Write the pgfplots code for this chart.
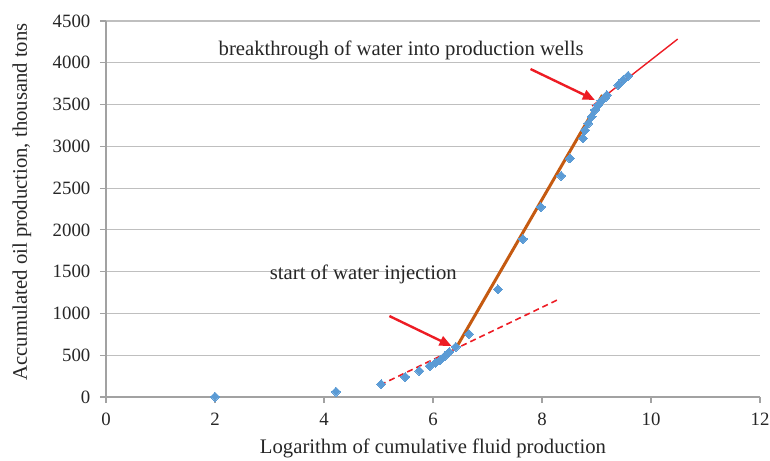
\documentclass[border=0pt]{standalone}
\usepackage{fontspec}
\setmainfont{Liberation Serif}
\usepackage{pgfplots}
\pgfplotsset{compat=1.18}
\usetikzlibrary{arrows.meta}
\definecolor{ptblue}{RGB}{91,155,213}
\definecolor{fitorange}{RGB}{197,90,17}
\definecolor{fitred}{RGB}{237,28,36}
\definecolor{gridgray}{RGB}{191,191,191}
\newcommand{\lblfont}{\fontsize{10.35}{12}\selectfont}
\begin{document}
\fontsize{9.4}{11}\selectfont
\begin{tikzpicture}
\begin{axis}[
  name=ax,
  scale only axis,
  width=327pt, height=188pt,
  xmin=0, xmax=12, ymin=0, ymax=4500,
  xtick={0,2,...,12}, ytick={0,500,...,4500},
  axis x line*=bottom, axis y line*=left,
  axis line style={gridgray!85!black, line width=0.6pt, -},
  ymajorgrids, grid style={gridgray, line width=0.6pt},
  tick style={gridgray!85!black, line width=0.6pt},
  tick align=outside, major tick length=3pt,
  /pgf/number format/assume math mode=true,
  /pgf/number format/set thousands separator={},
  ticklabel style={font=\fontsize{9.4}{11}\selectfont, text=black!85},
  yticklabel style={xshift=-1.5pt},
  xticklabel style={yshift=-1.5pt},
  xlabel={Logarithm of cumulative fluid production},
  ylabel={Accumulated oil production, thousand tons},
  xlabel style={at={(rel axis cs:0.5,0)}, anchor=base, yshift=-28pt, font=\lblfont, text=black!85},
  ylabel style={at={(rel axis cs:0,0.519)}, anchor=center, yshift=42pt, font=\lblfont, text=black!85},
  clip=false,
]
% data points
\addplot[only marks, mark=square*, mark size=1.6pt, mark options={rotate=45, fill=ptblue, draw=ptblue, line width=0pt}] coordinates {
(2.00,5) (4.22,65) (5.05,155) (5.49,240) (5.75,311) (5.94,371) (6.05,410)
(6.13,443) (6.22,491) (6.30,539) (6.42,602) (6.66,754) (7.19,1289)
(7.65,1891) (7.98,2274) (8.35,2648) (8.51,2857) (8.75,3096) (8.79,3195)
(8.85,3275) (8.91,3354) (8.97,3435) (9.03,3495) (9.09,3545) (9.16,3586)
(9.19,3614) (9.40,3734) (9.49,3794) (9.58,3845)
};
% dashed red trend (pre-injection)
\addplot[fitred, line width=0.8pt, dash pattern=on 3pt off 2pt] coordinates {(5.03,144) (8.28,1161)};
% orange trend (water injection)
\addplot[fitorange, line width=1.5pt] coordinates {(6.42,583) (9.11,3614)};
% thin red trend (after breakthrough)
\addplot[fitred, line width=0.7pt] coordinates {(8.92,3482) (10.49,4284)};
% arrows
\addplot[fitred, line width=1.2pt, -{Triangle[length=6pt,width=5pt]}] coordinates {(5.20,969) (6.34,610)};
\addplot[fitred, line width=1.2pt, -{Triangle[length=6pt,width=5pt]}] coordinates {(7.79,3925) (8.97,3555)};
% annotations
\node[anchor=base west, inner sep=0pt, font=\lblfont, text=black!85] at (axis cs:2.06,4090) {breakthrough of water into production wells};
\node[anchor=base west, inner sep=0pt, font=\lblfont, text=black!85] at (axis cs:3.0,1410) {start of water injection};
\end{axis}
\pgfresetboundingbox
\path (ax.south west) ++(-53pt,-31.5pt) coordinate (bl);
\path (ax.north east) ++(5pt,10.5pt) coordinate (tr);
\path[use as bounding box] (bl) rectangle (tr);
\end{tikzpicture}
\end{document}
